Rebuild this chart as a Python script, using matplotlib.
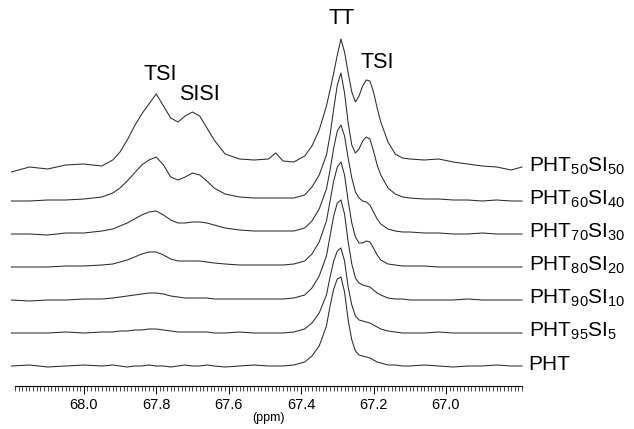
import matplotlib
matplotlib.use("Agg")
import matplotlib.pyplot as plt
import numpy as np

plt.rcParams['font.family'] = ['Liberation Sans', 'DejaVu Sans']
plt.rcParams['mathtext.fontset'] = 'custom'
plt.rcParams['mathtext.rm'] = 'Liberation Sans'
plt.rcParams['mathtext.it'] = 'Liberation Sans'

# chemical shift grid (ppm)
ppm = [68.20, 68.15, 68.10, 68.05, 68.00, 67.95, 67.92, 67.90, 67.88, 67.86,
       67.84, 67.82, 67.80, 67.78, 67.76, 67.74, 67.72, 67.70, 67.68, 67.66,
       67.64, 67.61, 67.57, 67.53, 67.49, 67.47, 67.45, 67.42, 67.39, 67.37,
       67.35, 67.33, 67.32, 67.31, 67.30, 67.29, 67.28, 67.27, 67.26, 67.25,
       67.24, 67.23, 67.22, 67.21, 67.20, 67.19, 67.18, 67.16, 67.14, 67.12,
       67.10, 67.06, 67.02, 66.98, 66.94, 66.90, 66.86, 66.82, 66.79]

# intensities (arbitrary units) of each sample
pht50_si50 = [-4, 1, -1, 3, 4, 2, 8, 16, 28, 42,
              54, 64, 74, 62, 50, 46, 52, 56, 52, 40,
              28, 14, 9, 8, 9, 15, 7, 6, 12, 22,
              38, 62, 78, 95, 113, 129, 116, 95, 76, 66,
              72, 82, 88, 87, 76, 60, 46, 26, 14, 10,
              9, 8, 9, 6, 4, 2, 1, -2, 1]
pht60_si40 = [0, 0, 1, 1, 2, 4, 8, 13, 20, 28,
              36, 41, 44, 36, 24, 21, 24, 28, 26, 20,
              13, 7, 4, 3, 3, 3, 3, 3, 6, 14,
              26, 46, 66, 92, 116, 128, 108, 78, 56, 48,
              52, 60, 64, 62, 50, 36, 26, 13, 7, 4,
              3, 2, 2, 1, 1, 0, 1, 0, 0]
pht70_si30 = [0, 0, -1, 1, 1, 3, 5, 8, 11, 15,
              19, 22, 23, 19, 14, 11, 11, 12, 12, 11,
              9, 6, 4, 3, 3, 3, 3, 3, 6, 13,
              25, 45, 64, 86, 103, 109, 98, 76, 56, 42,
              36, 33, 32, 29, 22, 15, 10, 5, 3, 2,
              2, 1, 1, 0, 0, 1, 0, 0, 0]
pht80_si20 = [0, 0, 0, 1, 1, 2, 3, 5, 7, 10,
              13, 15, 15, 12, 8, 6, 6, 6, 6, 5,
              4, 3, 2, 2, 2, 2, 2, 3, 6, 13,
              25, 46, 66, 86, 100, 105, 92, 66, 44, 30,
              24, 24, 26, 25, 19, 12, 7, 3, 2, 1,
              1, 1, 0, 0, 0, 0, 0, 0, 0]
pht90_si10 = [0, -1, 0, 0, 1, 1, 2, 3, 4, 5,
              6, 7, 7, 6, 4, 3, 2, 2, 2, 2,
              1, 1, 1, 1, 1, 1, 1, 2, 5, 12,
              24, 44, 64, 84, 97, 100, 86, 58, 36, 22,
              17, 15, 14, 13, 10, 7, 5, 2, 1, 1,
              0, 0, 0, 0, 1, 0, 0, 0, 0]
pht95_si5 = [0, 0, 0, 1, 0, 1, 1, 2, 2, 3,
             3, 4, 4, 3, 2, 1, 1, 1, 1, 1,
             0, 0, 1, 0, 0, 0, 0, 1, 4, 10,
             20, 38, 56, 72, 82, 85, 72, 46, 28, 17,
             13, 12, 11, 10, 8, 6, 4, 2, 1, 0,
             0, 0, 1, 0, 0, 0, 0, 0, 0]
pht = [0, 1, -1, 0, 1, 0, 1, 0, -1, 0,
       0, 1, 0, 0, -1, 0, 1, 0, 0, 1,
       0, -1, 0, 1, 0, 0, 0, 1, 4, 10,
       20, 40, 60, 77, 87, 89, 74, 46, 26, 15,
       11, 10, 9, 8, 6, 4, 3, 1, 1, 0,
       0, 1, 0, -1, 0, 0, 1, 0, 0]

spectra = [pht, pht95_si5, pht90_si10, pht80_si20, pht70_si30, pht60_si40, pht50_si50]
sample_labels = [r'PHT', r'PHT$_{\mathrm{95}}$SI$_{\mathrm{5}}$',
                 r'PHT$_{\mathrm{90}}$SI$_{\mathrm{10}}$', r'PHT$_{\mathrm{80}}$SI$_{\mathrm{20}}$',
                 r'PHT$_{\mathrm{70}}$SI$_{\mathrm{30}}$', r'PHT$_{\mathrm{60}}$SI$_{\mathrm{40}}$',
                 r'PHT$_{\mathrm{50}}$SI$_{\mathrm{50}}$']

peak_names = ['TSI', 'SISI', 'TT', 'TSI']
peak_ppm = [67.79, 67.68, 67.287, 67.19]

fig = plt.figure(figsize=(6.34, 4.29), dpi=100)
ax = fig.add_axes([15 / 634, 43 / 429, 507 / 634, 366 / 429])

base0, step = 20, 33
for i, (spec, lab) in enumerate(zip(spectra, sample_labels)):
    off = base0 + i * step
    ax.plot(ppm, np.array(spec) + off, color='#2a2a2a', lw=0.75, clip_on=False)
    ax.text(66.772, off + 2, lab, fontsize=15, va='center', ha='left', clip_on=False)

peak_y = [306, 286, 362, 318]
for name, x, y in zip(peak_names, peak_ppm, peak_y):
    ax.text(x, y, name, fontsize=15.5, ha='center', va='baseline', clip_on=False)

ax.set_xlim(68.19, 66.79)
ax.set_ylim(0, 366)
for s in ['left', 'right', 'top']:
    ax.spines[s].set_visible(False)
ax.spines['bottom'].set_linewidth(0.8)
ax.set_yticks([])
ax.set_xticks([68.0, 67.8, 67.6, 67.4, 67.2, 67.0])
ax.set_xticklabels(['68.0', '67.8', '67.6', '67.4', '67.2', '67.0'], fontsize=10.5)
ax.set_xticks(np.arange(66.79, 68.195, 0.01), minor=True)
ax.tick_params(axis='x', which='major', length=5.5, width=0.7, pad=3)
ax.tick_params(axis='x', which='minor', length=3.5, width=0.5)
ax.set_xlabel('(ppm)', fontsize=9, labelpad=0)

fig.savefig('out.png', dpi=100)
